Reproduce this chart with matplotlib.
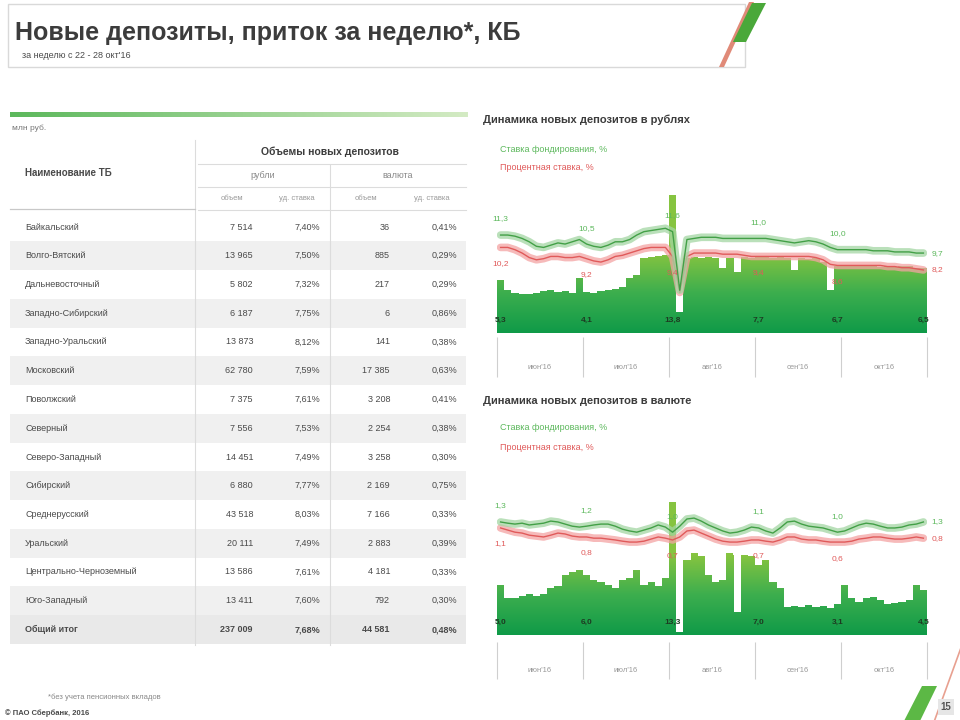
import numpy as np
import matplotlib.pyplot as plt
import matplotlib.transforms as mtransforms
from matplotlib.colors import LinearSegmentedColormap
from matplotlib.patches import Rectangle, Polygon, PathPatch
from matplotlib.path import Path

plt.rcParams['font.family'] = ['Liberation Sans', 'DejaVu Sans']

# ---------------- data ----------------
title = "Новые депозиты, приток за неделю*, КБ"
subtitle = "за неделю с 22 - 28 окт'16"

tb_names = ["Байкальский", "Волго-Вятский", "Дальневосточный", "Западно-Сибирский",
            "Западно-Уральский", "Московский", "Поволжский", "Северный",
            "Северо-Западный", "Сибирский", "Среднерусский", "Уральский",
            "Центрально-Черноземный", "Юго-Западный"]
tb_rub_vol = [7514, 13965, 5802, 6187, 13873, 62780, 7375, 7556,
              14451, 6880, 43518, 20111, 13586, 13411]
tb_rub_rate = [7.40, 7.50, 7.32, 7.75, 8.12, 7.59, 7.61, 7.53,
               7.49, 7.77, 8.03, 7.49, 7.61, 7.60]
tb_cur_vol = [36, 885, 217, 6, 141, 17385, 3208, 2254,
              3258, 2169, 7166, 2883, 4181, 792]
tb_cur_rate = [0.41, 0.29, 0.29, 0.86, 0.38, 0.63, 0.41, 0.38,
               0.30, 0.75, 0.33, 0.39, 0.33, 0.30]
total_name = "Общий итог"
total_rub_vol = 237009
total_rub_rate = 7.68
total_cur_vol = 44581
total_cur_rate = 0.48

months = ["июн'16", "июл'16", "авг'16", "сен'16", "окт'16"]

# рубли
rub_new = [5.3, 4.3, 4.0, 3.9, 3.9, 4.0, 4.2, 4.3, 4.1, 4.2, 4.0, 5.5,
           4.1, 4.0, 4.2, 4.3, 4.4, 4.6, 5.5, 5.8, 7.5, 7.6, 7.7, 7.8,
           13.8, 2.1, 7.5, 7.6, 7.5, 7.6, 7.5, 6.5, 7.5, 6.1, 7.6, 7.5,
           7.7, 7.6, 7.5, 7.6, 7.5, 6.3, 7.5, 7.4, 7.5, 7.1, 4.3, 6.7,
           6.7, 6.8, 6.7, 6.7, 6.8, 6.6, 6.7, 6.6, 6.7, 6.7, 6.5, 6.5]
rub_fund = [11.3, 11.3, 11.2, 11.0, 10.7, 10.3, 10.2, 10.4, 10.6, 10.5, 10.7, 10.9,
            10.5, 10.3, 10.2, 10.4, 10.7, 10.7, 10.9, 11.3, 11.6, 11.7, 11.8, 11.9,
            11.6, 6.4, 10.9, 11.0, 11.1, 11.1, 11.1, 11.0, 11.0, 11.0, 11.0, 11.0,
            11.0, 11.0, 10.9, 10.8, 10.7, 10.6, 10.7, 10.8, 10.7, 10.5, 10.2, 10.0,
            10.0, 10.0, 10.0, 10.0, 9.9, 9.9, 9.9, 9.8, 9.8, 9.8, 9.7, 9.7]
rub_rate = [10.2, 10.2, 10.0, 9.7, 9.3, 9.1, 9.2, 9.4, 9.4, 9.3, 9.3, 9.4,
            9.2, 9.0, 8.9, 9.1, 9.4, 9.5, 9.7, 9.9, 10.1, 10.2, 10.2, 10.2,
            9.4, 6.2, 9.4, 9.7, 9.7, 9.7, 9.7, 9.6, 9.6, 9.6, 9.5, 9.4,
            9.4, 9.4, 9.4, 9.4, 9.4, 9.4, 9.4, 9.4, 9.3, 9.1, 8.7, 8.6,
            8.6, 8.6, 8.6, 8.6, 8.6, 8.6, 8.5, 8.5, 8.4, 8.4, 8.3, 8.2]

# валюта
cur_new = [5.0, 3.7, 3.7, 3.9, 4.1, 3.9, 4.1, 4.7, 4.9, 6.0, 6.3, 6.5,
           6.0, 5.5, 5.3, 5.0, 4.7, 5.5, 5.7, 6.5, 5.0, 5.3, 4.9, 5.7,
           13.3, 0.3, 7.5, 8.2, 7.9, 6.0, 5.3, 5.5, 8.2, 2.3, 8.0, 7.9,
           7.0, 7.5, 5.3, 4.7, 2.8, 2.9, 2.8, 3.0, 2.8, 2.9, 2.7, 3.1,
           5.0, 3.7, 3.3, 3.7, 3.8, 3.5, 3.1, 3.2, 3.3, 3.5, 5.0, 4.5]
cur_fund = [1.30, 1.26, 1.23, 1.26, 1.20, 1.23, 1.26, 1.33, 1.30, 1.23, 1.16, 1.13,
            1.16, 1.20, 1.23, 1.23, 1.16, 1.06, 1.00, 0.96, 1.03, 1.10, 1.20, 1.13,
            0.96, 1.16, 1.40, 1.43, 1.33, 1.20, 1.10, 1.00, 0.93, 0.96, 1.03, 1.13,
            1.10, 1.00, 0.93, 1.10, 1.30, 1.33, 1.23, 1.16, 1.13, 1.10, 1.03, 0.96,
            1.00, 1.10, 1.20, 1.26, 1.23, 1.16, 1.10, 1.10, 1.13, 1.20, 1.23, 1.30]
cur_rate = [1.10, 1.03, 0.96, 0.93, 0.86, 0.83, 0.80, 0.86, 0.93, 0.90, 0.83, 0.80,
            0.80, 0.76, 0.76, 0.73, 0.70, 0.66, 0.63, 0.63, 0.66, 0.73, 0.80, 0.76,
            0.70, 0.80, 1.00, 1.03, 0.93, 0.83, 0.73, 0.66, 0.63, 0.63, 0.66, 0.70,
            0.70, 0.66, 0.63, 0.70, 0.80, 0.80, 0.73, 0.70, 0.70, 0.66, 0.63, 0.63,
            0.63, 0.66, 0.73, 0.76, 0.80, 0.80, 0.76, 0.73, 0.73, 0.76, 0.80, 0.76]

label_idx = [0, 12, 24, 36, 47, 59]
group_edges = [-0.5, 11.5, 23.5, 35.5, 47.5, 59.5]

GREEN = "#5cb85c"
RED = "#e05a5a"
TXT = "#4a4a4a"
W, H = 960, 720


def num(v):
    return f"{v:,}".replace(",", " ")


def pct(v):
    return f"{v:.2f}%".replace(".", ",")


def dec(v):
    return f"{v:.1f}".replace(".", ",")


fig = plt.figure(figsize=(9.6, 7.2), dpi=100)

# background / layout axes in pixel coordinates
bg = fig.add_axes([0, 0, 1, 1])
bg.set_xlim(0, W)
bg.set_ylim(H, 0)
bg.axis('off')

# header
bg.add_patch(Rectangle((8, 4), 737, 63, fc='white', ec='#d9d9d9', lw=1.0))
bg.add_patch(Polygon([(719, 67), (724, 67), (754, 2), (749, 2)], closed=True, fc='#e08a78', ec='none'))
bg.add_patch(Polygon([(733, 42), (746, 42), (766, 3), (752, 3)], closed=True, fc='#4aa83a', ec='none'))
bg.text(15, 33, title, fontsize=18, fontweight='bold', color='#3c3c3c', va='center')
bg.text(22, 56, subtitle, fontsize=6.5, color=TXT, va='center')

# bottom right decoration
bg.plot([962, 934], [645, 722], color='#e8a090', lw=1.2)
bg.add_patch(Polygon([(904, 721), (920, 721), (937, 686), (922, 686)], closed=True, fc='#5cb845', ec='none'))
bg.text(946, 707, "15", fontsize=7, fontweight='bold', color='#555555', ha='center', va='center',
        bbox=dict(boxstyle='square,pad=0.3', fc='#e6e6e6', ec='none'))

# green gradient line over table
g_cmap = LinearSegmentedColormap.from_list('gl', ['#5cb85c', '#d4ebc4'])
bg.imshow(np.linspace(0, 1, 256).reshape(1, -1), cmap=g_cmap, aspect='auto',
          extent=(10, 468, 117.5, 112.5))
bg.set_xlim(0, W)
bg.set_ylim(H, 0)
bg.text(12, 128, "млн руб.", fontsize=6, color='#777777', va='center')

# ---------------- table ----------------
row_y0 = 227
pitch = 28.75
n_rows = len(tb_names) + 1
for r in range(n_rows):
    yc = row_y0 + r * pitch
    if r % 2 == 1 or r == n_rows - 1:
        fc = '#e9e9e9' if r == n_rows - 1 else '#f0f0f0'
        bg.add_patch(Rectangle((10, yc - pitch / 2), 456, pitch, fc=fc, ec='none'))

line_c = '#dcdcdc'
bg.plot([195, 195], [140, 645], color=line_c, lw=0.8)
bg.plot([330, 330], [165, 645], color=line_c, lw=0.8)
bg.plot([198, 466], [164, 164], color=line_c, lw=0.8)
bg.plot([198, 466], [187, 187], color=line_c, lw=0.8)
bg.plot([10, 195], [209, 209], color='#c8c8c8', lw=0.9)
bg.plot([198, 466], [210, 210], color=line_c, lw=0.8)

bg.text(25, 173, "Наименование ТБ", fontsize=7, fontweight='bold', color=TXT, va='center')
bg.text(330, 152, "Объемы новых депозитов", fontsize=7.5, fontweight='bold', color='#3c3c3c',
        ha='center', va='center')
bg.text(263, 176, "рубли", fontsize=6.5, color='#888888', ha='center', va='center')
bg.text(398, 176, "валюта", fontsize=6.5, color='#888888', ha='center', va='center')
for xh, lab in [(232, "объем"), (297, "уд. ставка"), (366, "объем"), (432, "уд. ставка")]:
    bg.text(xh, 199, lab, fontsize=5.5, color='#999999', ha='center', va='center')

col_x = [253, 320, 390, 457]
rows = list(zip(tb_names, tb_rub_vol, tb_rub_rate, tb_cur_vol, tb_cur_rate))
rows.append((total_name, total_rub_vol, total_rub_rate, total_cur_vol, total_cur_rate))
for r, (name, rv, rr, cv, cr) in enumerate(rows):
    yc = row_y0 + r * pitch
    fw = 'bold' if r == n_rows - 1 else 'normal'
    bg.text(25, yc, name, fontsize=6.5, color=TXT, va='center', fontweight=fw)
    for xc, s in zip(col_x, [num(rv), pct(rr), num(cv), pct(cr)]):
        bg.text(xc, yc, s, fontsize=6.5, color=TXT, va='center', ha='right', fontweight=fw)

bg.text(48, 697, "*без учета пенсионных вкладов", fontsize=5.5, color='#888888', va='center')
bg.text(5, 713, "© ПАО Сбербанк, 2016", fontsize=5.5, color=TXT, va='center', fontweight='bold')

# ---------------- charts ----------------
bar_cmap = LinearSegmentedColormap.from_list('bars', ['#0f9a48', '#3cae4e', '#86c440'])
GRAD_TOP = 8.0


def draw_chart(title_y, leg_dy, top_px, bottom_px, chart_title, bars, fund, rate,
               bar_top, rate_lim, rate_fmt, sep, lab_y):
    bg.text(483, title_y, chart_title, fontsize=8, fontweight='bold', color='#3c3c3c', va='center')
    bg.text(500, title_y + leg_dy[0], "Ставка фондирования, %", fontsize=6.5, color=GREEN, va='center')
    bg.text(500, title_y + leg_dy[1], "Процентная ставка, %", fontsize=6.5, color=RED, va='center')

    ax = fig.add_axes([497 / W, 1 - bottom_px / H, 430 / W, (bottom_px - top_px) / H])
    x = np.arange(len(bars))
    bc = ax.bar(x, bars, width=1.0, color='#86c440', linewidth=0)
    im = ax.imshow(np.linspace(0, 1, 256).reshape(-1, 1), cmap=bar_cmap, aspect='auto',
                   origin='lower', extent=(-0.5, len(bars) - 0.5, 0, GRAD_TOP), zorder=2)
    paths = [p.get_path().transformed(p.get_patch_transform()) for p in bc]
    clip = PathPatch(Path.make_compound_path(*paths), transform=ax.transData, fc='none', ec='none')
    ax.add_patch(clip)
    im.set_clip_path(clip)
    ax.set_xlim(-0.5, len(bars) - 0.5)
    ax.set_ylim(0, bar_top)
    ax.axis('off')

    for i in label_idx:
        ax.text(i, bar_top * 0.09, dec(bars[i]), fontsize=6, color='#1d3b22', fontweight='bold',
                ha='center', va='center', zorder=5)

    trans = mtransforms.blended_transform_factory(ax.transData, ax.transAxes)
    ax.vlines(group_edges, sep[0], sep[1], transform=trans, clip_on=False, color='#cfcfcf', lw=0.8)
    for k, m in enumerate(months):
        xm = (group_edges[k] + group_edges[k + 1]) / 2
        ax.text(xm, lab_y, m, transform=trans, fontsize=5.5, color='#999999', ha='center', va='center')

    ax2 = ax.twinx()
    ax2.set_ylim(*rate_lim)
    ax2.axis('off')
    ax2.plot(x, rate, color='#f4a3a3', lw=5.5, alpha=0.75, solid_capstyle='round')
    ax2.plot(x, rate, color=RED, lw=1.0)
    ax2.plot(x, fund, color='#a3d6a3', lw=5.5, alpha=0.75, solid_capstyle='round')
    ax2.plot(x, fund, color='#43a047', lw=1.0)
    for i in label_idx[:-1]:
        ax2.annotate(rate_fmt(fund[i]), (i, fund[i]), xytext=(0, 9), textcoords='offset points',
                     fontsize=6, color=GREEN, ha='center', va='bottom')
        ax2.annotate(rate_fmt(rate[i]), (i, rate[i]), xytext=(0, -9), textcoords='offset points',
                     fontsize=6, color=RED, ha='center', va='top')
    i = label_idx[-1]
    ax2.annotate(rate_fmt(fund[i]), (i, fund[i]), xytext=(6, 0), textcoords='offset points',
                 fontsize=6, color=GREEN, ha='left', va='center', annotation_clip=False)
    ax2.annotate(rate_fmt(rate[i]), (i, rate[i]), xytext=(6, 0), textcoords='offset points',
                 fontsize=6, color=RED, ha='left', va='center', annotation_clip=False)


draw_chart(120, (29, 48), 190, 333, "Динамика новых депозитов в рублях", rub_new, rub_fund, rub_rate,
           14.3, (2.6, 15.3), dec, (-0.03, -0.31), -0.24)
draw_chart(401, (27, 46), 492, 635, "Динамика новых депозитов в валюте", cur_new, cur_fund, cur_rate,
           14.3, (-2.47, 2.30), dec, (-0.05, -0.31), -0.245)

fig.savefig("out.png", dpi=100)
